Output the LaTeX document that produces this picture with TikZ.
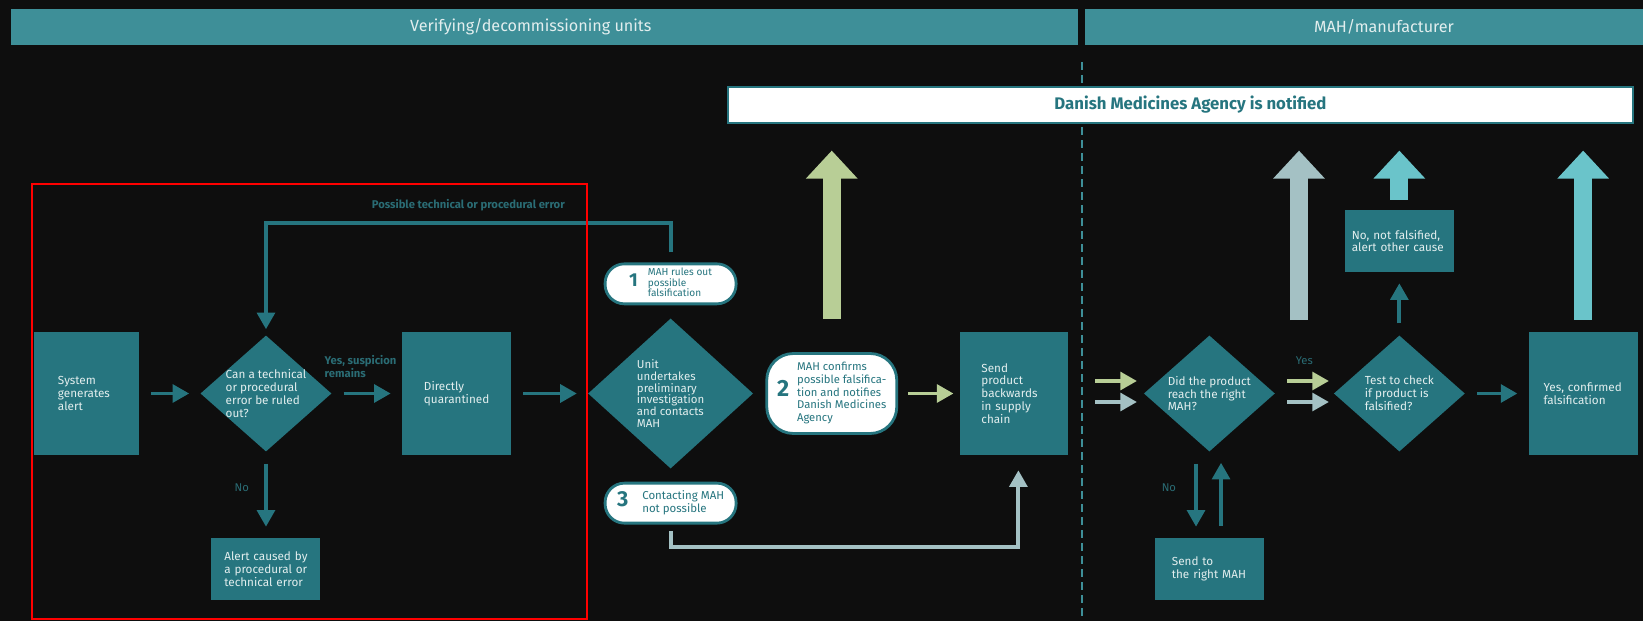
\documentclass[tikz,border=0pt]{standalone}
\usepackage{fontspec}
\setmainfont{Fira Sans}
\usepackage{xcolor}
\usepackage{tikz}
\usetikzlibrary{positioning,arrows.meta,shapes.geometric}
\definecolor{fmdark}{RGB}{14,14,14}
\definecolor{fmbar}{RGB}{62,143,152}
\definecolor{fmbox}{RGB}{38,117,127}
\definecolor{fmlbl}{RGB}{42,108,116}
\definecolor{fmgreen}{RGB}{184,206,150}
\definecolor{fmgrey}{RGB}{164,193,196}
\definecolor{fmcyan}{RGB}{106,196,202}
\definecolor{fmtext}{RGB}{226,238,238}
\tikzset{
  box/.style={fill=fmbox, text=fmtext, align=left, inner ysep=0pt,
              inner xsep=0.5cm, text width=2.27cm, minimum width=3.27cm,
              font=\fontsize{10}{11}\selectfont},
  tallbox/.style={box, minimum height=3.69cm},
  lowbox/.style={box, minimum height=1.86cm},
  ask/.style={diamond, aspect=1.13, fill=fmbox, text=fmtext, align=left,
              inner sep=-2pt, minimum width=3.93cm, minimum height=3.48cm,
              font=\fontsize{10}{11}\selectfont},
  pill/.style={draw=fmbox, line width=2.4pt, fill=white, text=fmbox,
               rounded corners=0.58cm, inner sep=0pt,
               minimum width=3.93cm, minimum height=1.2cm},
  band/.style={fill=fmbar, text=fmtext, minimum height=1.08cm, inner sep=0pt,
               font=\fontsize{13.8}{15}\selectfont},
  notice/.style={fill=white, draw=fmbox, line width=1pt, text=fmbox,
                 minimum width=27.15cm, minimum height=1.08cm, inner sep=0pt,
                 font=\fontsize{14.3}{16}\selectfont\bfseries},
  lbl/.style={text=fmlbl, inner sep=0pt, align=left,
              font=\fontsize{9.6}{11}\selectfont\bfseries},
  note/.style={lbl, font=\fontsize{9.6}{11}\selectfont},
  flow/.style={line width=3.4pt, -{Triangle[width=0.53cm,length=0.5cm]},
               draw=fmbox, shorten <=0.36cm, shorten >=0.33cm},
  gflow/.style={flow, draw=fmgreen},
  sflow/.style={flow, draw=fmgrey},
  bigup/.style={line width=0.54cm, -{Triangle[width=1.5cm,length=0.84cm]},
                shorten >=0.81cm},
  divider/.style={draw=fmbar, line width=1.7pt, dash pattern=on 0.24cm off 0.15cm},
}

\begin{document}
\begin{tikzpicture}[x=0.03cm, y=-0.03cm]
\fill[fmdark, use as bounding box] (0,0) rectangle (1643,621);
\draw[divider] (1081.5,62) -- (1081.5,621);
\node[band, minimum width=32cm] (lband) at (544.75,27) {Verifying/decommissioning units\hspace*{0.84cm}};
\node[band, minimum width=16.74cm] (rband) at (1364,27) {\hspace*{1.2cm}MAH/manufacturer};
\node[notice] (dma) at (1180.5,105) {\hspace*{0.6cm}Danish Medicines Agency is notified};
\coordinate (fbtop) at (0,223);
\coordinate (sbot) at (0,547);
\coordinate (gfoot) at (1299,320);

\node[tallbox, minimum width=3.15cm, inner xsep=0.72cm, text width=1.71cm] (sys) at (86.5,393.5) {System\\generates\\alert};
\node[ask, right=1.83cm of sys] (q1) {Can a technical\\or procedural\\error be ruled\\out?};
\node[lowbox, below=2.58cm of q1, inner xsep=0.385cm, text width=2.5cm] (alrt) {Alert caused by\\a procedural or\\technical error};
\node[tallbox, right=2.1cm of q1, inner xsep=0.66cm, text width=1.95cm] (dir) {Directly\\quarantined};
\node[ask, right=2.3cm of dir, minimum width=4.95cm, minimum height=4.5cm,
      font=\fontsize{9.8}{10.2}\selectfont] (q2) {Unit\\undertakes\\preliminary\\investigation\\and contacts\\MAH};
\node[pill, above=0.39cm of q2] (p1) {{\fontsize{16}{16}\selectfont\bfseries 1}\hspace{0.3cm}{\fontsize{8.6}{8.3}\selectfont\begin{tabular}[c]{@{}l@{}}MAH rules out\\possible\\falsification\end{tabular}}};
\node[pill, below=0.39cm of q2] (p3) {{\fontsize{18.5}{18.5}\selectfont\bfseries 3}\hspace{0.42cm}{\fontsize{9.8}{11}\selectfont\begin{tabular}[c]{@{}l@{}}Contacting MAH\\not possible\end{tabular}}};
\node[pill, right=0.36cm of q2, minimum width=3.9cm, minimum height=2.4cm, rounded corners=0.8cm] (p2) {{\fontsize{20}{20}\selectfont\bfseries 2}\hspace{0.24cm}{\fontsize{9.6}{11}\selectfont\begin{tabular}[c]{@{}l@{}}MAH confirms\\possible falsifica-\\tion and notifies\\Danish Medicines\\Agency\end{tabular}}};
\node[tallbox, right=1.86cm of p2, minimum width=3.24cm, inner xsep=0.63cm, text width=1.98cm] (send) {Send\\product\\backwards\\in supply\\chain};
\node[ask, right=2.25cm of send] (q3) {Did the product\\reach the right\\MAH?};
\node[lowbox, below=2.58cm of q3, inner xsep=0.51cm, text width=2.25cm] (sendmah) {Send to\\the right MAH};
\node[ask, right=1.755cm of q3] (q4) {Test to check\\if product is\\falsified?};
\node[lowbox, above=1.89cm of q4, inner xsep=0.21cm, text width=2.85cm] (nofal) {No, not falsified,\\alert other cause};
\node[tallbox, right=1.9cm of q4, inner xsep=0.45cm, text width=2.37cm] (yesc) {Yes, confirmed\\falsification};

\draw[flow] (sys) -- (q1);
\draw[flow] (q1) -- node[lbl, at start, above right=0.42cm and -0.27cm]{Yes, suspicion\\remains} (dir);
\draw[flow] (q1) -- node[note, pos=0.42, left=0.45cm]{No} (alrt);
\draw[flow] (dir) -- (q2);
\draw[flow, shorten <=0.3cm, shorten >=0.18cm] (p1.north) -- (p1.north |- fbtop)
  -| node[lbl, pos=0.25, above=0.3cm]{Possible technical or procedural error} (q1.north);
\draw[gflow, shorten <=0.3cm, shorten >=0.2cm] (p2) -- (send);
\draw[sflow, shorten <=0.2cm, shorten >=0.45cm] (p3.south) -- (p3.south |- sbot) -| ([xshift=0.12cm]send.south);
\draw[gflow, shorten <=0.8cm, shorten >=0.2cm] ([yshift=0.375cm]send.east) -- ([yshift=0.375cm]q3.west);
\draw[sflow, shorten <=0.8cm, shorten >=0.2cm] ([yshift=-0.255cm]send.east) -- ([yshift=-0.255cm]q3.west);
\draw[gflow, shorten >=0.14cm] ([yshift=0.375cm]q3.east) -- node[note, above=0.42cm]{Yes} ([yshift=0.375cm]q4.west);
\draw[sflow, shorten >=0.14cm] ([yshift=-0.255cm]q3.east) -- ([yshift=-0.255cm]q4.west);
\draw[flow] ([xshift=-0.4cm]q3.south) -- node[note, pos=0.42, left=0.54cm]{No} ([xshift=-0.4cm]sendmah.north);
\draw[flow] ([xshift=0.35cm]sendmah.north) -- ([xshift=0.35cm]q3.south);
\draw[flow] (q4) -- (nofal);
\draw[flow] (q4) -- (yesc);

\draw[bigup, fmgreen, shorten <=0.99cm] (p2.north) -- (p2.north |- dma.south);
\draw[bigup, fmgrey] (gfoot) -- (gfoot |- dma.south);
\draw[bigup, fmcyan, shorten <=0.3cm] (nofal.north) -- (nofal.north |- dma.south);
\draw[bigup, fmcyan, shorten <=0.36cm] (yesc.north) -- (yesc.north |- dma.south);

\draw[red, line width=2pt] (32,184) rectangle (587,619);
\end{tikzpicture}
\end{document}
